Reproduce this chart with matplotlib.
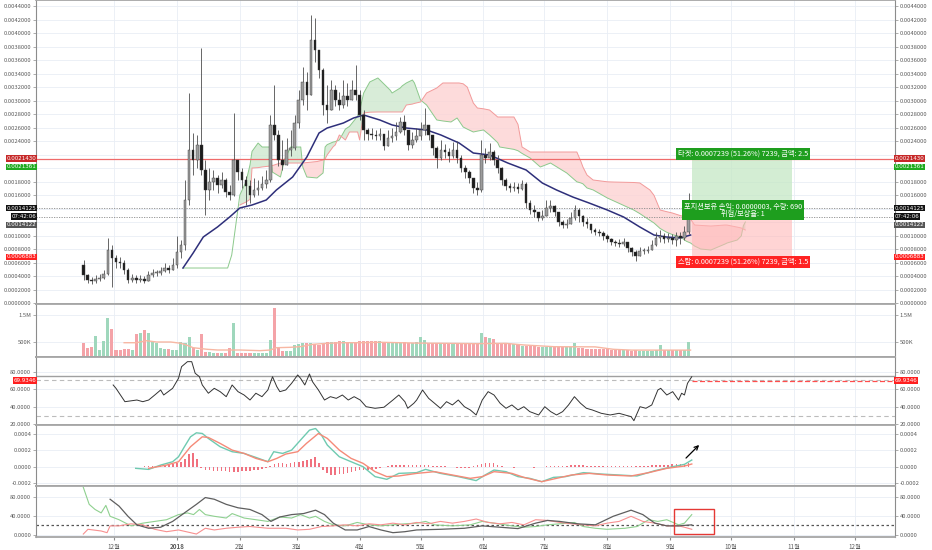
import numpy as np
import matplotlib
matplotlib.use('Agg')
import matplotlib.pyplot as plt
from matplotlib.patches import Rectangle

plt.rcParams['font.family'] = ['Noto Sans CJK KR', 'DejaVu Sans']

# x axis: days counted from 2017-11-01
month_days = [30, 61, 92, 120, 151, 181, 212, 242, 273, 304, 334, 365, 395]
month_labels = ['12월', '2018', '2월', '3월', '4월', '5월', '6월', '7월', '8월', '9월', '10월', '11월', '12월']

# candles, one every 2 days from day 15, prices in 1e-6
first_open = 570
closes = [422, 348, 333, 362, 377, 436, 791, 673, 614, 599,
          496, 348, 377, 348, 362, 333, 422, 451, 451, 481,
          525, 496, 570, 762, 865, 1531, 2271, 2123, 2345, 1975,
          1679, 1797, 1857, 1753, 1827, 1649, 1605, 2123, 1945, 1827,
          1738, 1605, 1679, 1709, 1768, 1827, 2641, 2493, 2123, 2049,
          2271, 2300, 2670, 3010, 3277, 3084, 3898, 3750, 3454, 2936,
          2862, 3158, 3010, 2936, 3070, 3010, 3158, 3084, 2788, 2567,
          2507, 2493, 2478, 2507, 2330, 2448, 2478, 2537, 2685, 2567,
          2345, 2419, 2478, 2567, 2641, 2493, 2300, 2152, 2271, 2241,
          2182, 2271, 2152, 2004, 1945, 1857, 1709, 1679, 2197, 2152,
          2241, 2123, 2004, 1827, 1738, 1709, 1723, 1694, 1768, 1487,
          1383, 1354, 1265, 1294, 1413, 1442, 1354, 1206, 1161, 1176,
          1265, 1383, 1294, 1206, 1176, 1087, 1058, 1043, 999, 954,
          910, 895, 880, 910, 821, 762, 703, 777, 777, 791,
          865, 969, 999, 954, 969, 939, 999, 969, 1058, 1412]
highs = [643, 430, 392, 422, 436, 496, 969, 865, 717, 688,
         643, 525, 436, 422, 422, 407, 481, 510, 496, 540,
         599, 570, 673, 999, 939, 1827, 3114, 2522, 2493, 3780,
         2123, 2004, 1975, 1901, 1945, 1857, 1753, 2818, 2123, 2004,
         1886, 1827, 1857, 1827, 1886, 1975, 2788, 3232, 2567, 2419,
         2448, 2567, 2788, 3158, 3499, 3425, 4268, 4223, 3750, 3484,
         3232, 3306, 3232, 3129, 3306, 3262, 3306, 3528, 3158, 2862,
         2596, 2596, 2567, 2596, 2493, 2567, 2596, 2685, 2759, 2788,
         2567, 2537, 2596, 2685, 2892, 2641, 2493, 2330, 2419, 2359,
         2300, 2389, 2404, 2197, 2049, 1975, 1857, 1797, 2419, 2300,
         2374, 2271, 2197, 2019, 1857, 1782, 1797, 1782, 1827, 1797,
         1531, 1457, 1354, 1383, 1531, 1531, 1457, 1354, 1235, 1250,
         1354, 1457, 1413, 1309, 1265, 1176, 1117, 1102, 1073, 1028,
         969, 939, 954, 969, 910, 836, 791, 836, 821, 851,
         939, 1058, 1087, 1043, 1043, 1028, 1058, 1058, 1146, 1635]
lows = [348, 303, 288, 303, 333, 362, 422, 244, 525, 525,
        436, 303, 318, 303, 318, 303, 348, 392, 407, 422,
        466, 451, 496, 525, 673, 791, 1457, 1901, 2004, 1901,
        1309, 1531, 1679, 1635, 1709, 1575, 1531, 1590, 1827, 1709,
        1457, 1487, 1575, 1605, 1679, 1709, 1797, 2419, 2034, 1975,
        2152, 2182, 2271, 2596, 2936, 2862, 3084, 3572, 3336, 2788,
        2670, 2892, 2922, 2862, 2892, 2922, 3010, 3010, 2714, 2419,
        2419, 2433, 2419, 2419, 2271, 2345, 2389, 2419, 2522, 2493,
        2271, 2300, 2389, 2419, 2493, 2419, 2197, 2004, 2123, 2152,
        2093, 2152, 2078, 1945, 1857, 1782, 1635, 1605, 1649, 2078,
        2123, 2049, 1930, 1753, 1679, 1649, 1664, 1635, 1679, 1413,
        1324, 1280, 1220, 1235, 1339, 1354, 1294, 1146, 1117, 1117,
        1206, 1235, 1206, 1146, 1117, 1043, 1013, 999, 939, 910,
        865, 851, 836, 851, 762, 703, 629, 717, 732, 747,
        791, 851, 910, 895, 910, 880, 851, 880, 939, 1028]
# volume in K, same days as candles
volume_k = [452, 267, 300, 720, 204, 548, 1380, 981, 204, 204,
            240, 240, 220, 785, 833, 944, 822, 500, 480, 267,
            250, 240, 204, 204, 500, 452, 674, 267, 204, 796,
            141, 141, 110, 100, 100, 100, 267, 1215, 110, 100,
            90, 90, 80, 80, 80, 80, 574, 1748, 300, 160,
            150, 150, 400, 420, 450, 450, 452, 420, 400, 480,
            500, 500, 500, 550, 550, 500, 500, 500, 520, 550,
            550, 550, 520, 550, 480, 470, 500, 480, 470, 490,
            480, 470, 500, 700, 574, 480, 470, 480, 470, 480,
            460, 470, 480, 460, 470, 450, 450, 450, 822, 700,
            650, 600, 450, 420, 450, 430, 420, 380, 350, 350,
            340, 350, 330, 320, 330, 320, 310, 320, 300, 310,
            320, 475, 280, 260, 250, 240, 250, 240, 230, 230,
            220, 210, 200, 200, 190, 180, 200, 170, 180, 170,
            180, 200, 390, 200, 190, 200, 190, 200, 210, 511]
vol_ma_days = [35, 41, 46, 51, 58, 63, 66, 69, 76, 81, 92, 102, 107, 110, 117, 122, 128, 135, 143, 151,
               161, 179, 197, 208, 223, 232, 247, 267, 276, 285, 296, 314]
vol_ma_vals = [474, 474, 548, 500, 500, 452, 380, 289, 230, 204, 204, 180, 204, 289, 304, 330, 415, 452, 474, 474,
               490, 460, 450, 440, 450, 390, 326, 320, 230, 200, 200, 200]

# moving average (1e-6)
ma_days = [64, 69, 74, 81, 87, 92, 98, 105, 110, 118, 125, 131, 135, 143, 148, 153, 161, 167, 174, 184,
           191, 200, 207, 215, 224, 233, 241, 248, 256, 264, 273, 281, 289, 296, 302, 309, 314]
ma_vals = [525, 747, 984, 1132, 1280, 1413, 1457, 1531, 1679, 1871, 2167, 2522, 2596, 2670, 2744, 2788, 2714, 2641, 2596, 2567,
           2493, 2374, 2226, 2197, 2078, 1975, 1782, 1679, 1575, 1487, 1383, 1280, 1132, 1013, 984, 969, 1013]

# ichimoku cloud (1e-6)
nan = float('nan')
cloud_days = [64, 86, 88, 90, 92, 95, 97, 98, 101, 103, 107, 108, 112, 114, 117, 122, 123, 125, 130, 133,
              134, 135, 138, 139, 141, 144, 146, 150, 151, 153, 156, 160, 166, 167, 171, 172, 174, 177, 178, 181,
              184, 189, 192, 196, 199, 200, 202, 204, 207, 209, 212, 215, 219, 220, 227, 229, 231, 235, 240, 245,
              253, 258, 260, 261, 263, 266, 273, 276, 286, 289, 294, 296, 299, 302, 305, 309, 312, 314, 316, 319,
              324, 331, 332, 337, 339, 340, 341]
span_a = [525, 525, 717, 1161, 1605, 1797, 2049, 2250, 2374, 2315, 2315, 1945, 1871, 2123, 2315, 2315, 2019, 1871, 1857, 1931,
          2315, 2350, 2389, 2395, 2419, 2580, 2620, 2770, 2850, 3114, 3277, 3336, 3158, 3114, 3188, 3220, 3262, 3306, 3262, 3010,
          2936, 2715, 2700, 2685, 2744, 2700, 2611, 2580, 2537, 2550, 2567, 2493, 2380, 2315, 2280, 2260, 2220, 2152, 2019, 2078,
          1931, 1800, 1783, 1770, 1709, 1680, 1561, 1520, 1383, 1330, 1230, 1191, 1110, 1058, 1020, 984, 920, 895, 850, 806,
          791, 880, 895, 939, 1000, 1150, 1206]
span_b = [nan, nan, nan, nan, 1457, 1500, 1540, 2004, 2010, 2020, 2034, 2040, 2078, 2078, 2078, 2078, 2078, 2085, 2100, 2123,
          2140, 2197, 2320, 2345, 2493, 2419, 2537, 2537, 2419, 2818, 2830, 2833, 2833, 2833, 2833, 2833, 2936, 2950, 2960, 2981,
          3114, 3188, 3262, 3262, 3262, 3262, 3250, 3202, 2966, 2892, 2880, 2862, 2759, 2759, 2759, 2650, 2315, 2241, 2241, 2241,
          2241, 2241, 2100, 2019, 1900, 1827, 1800, 1797, 1790, 1783, 1679, 1600, 1383, 1360, 1339, 1300, 1280, 1250, 1161, 1155,
          1146, 1161, 1160, 1130, 1117, 1100, 1087]

# RSI
rsi_days = [29.6, 31, 35.4, 41.3, 44.2, 47.1, 50.1, 53, 54.5, 58.9, 61.8, 63.3, 66.2, 68.3, 70, 72.1, 73.5, 76.5, 79.4, 82.3,
            85.3, 88.2, 91.1, 94.1, 97, 99.9, 102.9, 105.8, 108.1, 110.2, 111.7, 114.6, 117.5, 120.5, 121.9, 124, 126.3, 127.8, 130.7, 133.7,
            136.6, 139.5, 142.5, 145.4, 148.3, 151.3, 154.2, 158.6, 163, 167.4, 170.3, 173.3, 174.7, 177.7, 179.1, 182, 185, 187.9, 190.8, 193.8,
            196.7, 199.6, 202.6, 205.5, 208.4, 211.4, 214.3, 217.2, 220.2, 223.1, 226, 229, 231.9, 234.8, 239.2, 242.2, 245.1, 248, 251, 253.9,
            256.8, 259.8, 262.7, 265.6, 270, 274.4, 278.8, 281.7, 284.7, 286.1, 289.1, 292, 294.9, 297.9, 299.3, 302.3, 305.2, 308.1, 309.6, 311,
            312.5, 314.6]
rsi_vals = [64.9, 61.1, 45.9, 47.8, 45.9, 47.8, 53.5, 59.2, 53.5, 61.1, 72.5, 85.7, 91.4, 91.4, 78.2, 74.3, 64.9, 55.5, 61.1, 57.3,
            51.6, 64.9, 57.3, 53.5, 47.8, 55.5, 51.6, 59.2, 74.3, 63.0, 57.3, 59.2, 66.8, 76.3, 72.5, 64.9, 77.4, 68.6, 59.2, 47.8,
            51.6, 49.7, 53.5, 47.8, 51.6, 47.8, 40.2, 38.4, 39.6, 47.8, 53.5, 45.9, 38.4, 44.1, 47.8, 59.2, 49.7, 44.1, 38.4, 45.9,
            42.2, 47.8, 40.2, 36.5, 30.8, 47.8, 57.3, 53.5, 44.1, 38.4, 42.2, 36.5, 40.2, 34.6, 30.8, 40.2, 34.6, 30.8, 34.6, 42.2,
            51.6, 44.1, 38.4, 36.5, 32.7, 30.8, 32.7, 30.8, 28.9, 24.3, 40.2, 38.4, 42.2, 59.2, 61.1, 53.5, 57.3, 47.8, 55.5, 53.5,
            66.8, 74.3]
rsi_last = 69.9346

# MACD in 1e-4
macd_days = [40.7, 47.1, 53, 58.9, 61.8, 64.7, 67.7, 70.6, 73.5, 76.5, 82.3, 88.2, 94.1, 99.9, 105.8, 108.7, 113.1, 117.5, 121.9, 126.3,
             129.3, 132.2, 135.1, 141, 146.8, 152.7, 158.6, 164.4, 170.3, 179.1, 183.5, 190.8, 199.6, 208.4, 212.8, 217.2, 223.1, 229, 234.8, 240.7,
             246.5, 252.4, 261.2, 270, 278.8, 287.6, 296.4, 305.2, 311, 314.6]
macd_vals = [-0.2, -0.33, 0.2, 0.61, 1.22, 2.45, 3.67, 4.16, 4.08, 3.47, 2.45, 1.84, 1.63, 1.14, 0.61, 1.84, 1.63, 2.04, 3.27, 4.49,
             4.69, 3.88, 2.65, 1.22, 0.61, 0, -1.22, -1.55, -0.82, -0.73, -0.33, -0.82, -1.22, -1.71, -1.02, -0.41, -0.61, -1.22, -1.43, -1.84,
             -1.31, -1.22, -0.73, -0.90, -1.02, -1.14, -0.49, 0, 0.29, 0.82]
signal_days = [47.1, 55.9, 61.8, 67.7, 73.5, 76.5, 82.3, 88.2, 94.1, 99.9, 105.8, 110.2, 114.6, 120.5, 124.8, 130.7, 135.1, 141, 146.8, 152.7,
               158.6, 164.4, 170.3, 179.1, 187.9, 196.7, 205.5, 211.4, 217.2, 226, 231.9, 240.7, 248, 255.3, 264.1, 272.9, 284.7, 293.4, 302.3, 311,
               314.6]
signal_vals = [-0.2, 0.2, 0.61, 2.45, 3.67, 3.59, 2.86, 2.04, 1.63, 1.02, 0.61, 1.02, 1.55, 1.84, 2.86, 4.08, 3.47, 2.04, 1.02, 0.41,
               -0.61, -1.22, -1.14, -0.82, -0.61, -1.02, -1.43, -1.22, -0.61, -0.82, -1.31, -1.84, -1.43, -1.02, -0.82, -1.02, -1.14, -0.73, -0.2, 0.08,
               0.33]
# histogram, every 2 days from day 41
hist_vals = [0.0, 0.02, 0.04, 0.05, 0.08, 0.12, 0.15, 0.2, 0.25, 0.3,
             0.45, 0.6, 1.0, 1.5, 1.7, 1.0, -0.2, -0.4, -0.45, -0.5,
             -0.5, -0.55, -0.55, -0.6, -0.6, -0.6, -0.55, -0.5, -0.5, -0.45,
             -0.35, -0.3, -0.15, 0.1, 0.3, 0.45, 0.5, 0.35, 0.45, 0.55,
             0.6, 0.75, 0.85, 1.0, 1.15, 0.5, -0.4, -0.8, -1.0, -1.05,
             -0.95, -0.85, -0.75, -0.65, -0.55, -0.45, -0.35, -0.4, -0.35, -0.3,
             -0.15, 0.0, 0.1, 0.15, 0.2, 0.2, 0.18, 0.15, 0.15, 0.2,
             0.25, 0.25, 0.15, 0.1, 0.08, 0.05, 0.05, 0.0, -0.05, -0.1,
             -0.1, -0.1, -0.1, 0.05, 0.2, 0.3, 0.45, 0.5, 0.4, 0.25,
             0.1, 0.0, -0.08, -0.1, -0.08, -0.05, -0.05, -0.08, -0.1, -0.08,
             0.0, 0.08, 0.1, 0.08, 0.05, 0.06, 0.1, 0.15, 0.18, 0.2,
             0.18, 0.12, 0.1, 0.08, 0.05, 0.05, 0.04, 0.04, 0.05, 0.05,
             0.05, 0.05, 0.05, 0.07, 0.1, 0.1, 0.12, 0.15, 0.2, 0.22,
             0.25, 0.25, 0.27, 0.3, 0.3, 0.35, 0.4]

# DMI
pdi_days = [14.9, 17.8, 20.7, 23.7, 26.0, 28.1, 32.5, 38.4, 44.2, 50.1, 55.9, 61.8, 66.2, 69.2, 72.1, 75.0, 79.4, 85.3, 88.2, 94.1,
            99.9, 105.8, 111.7, 117.5, 121.9, 126.3, 129.3, 133.7, 138.0, 143.9, 149.8, 155.6, 161.5, 167.4, 173.3, 179.1, 183.5, 187.9, 196.7, 205.5,
            211.4, 217.2, 226.0, 231.9, 237.7, 243.6, 249.5, 256.8, 261.2, 267.1, 272.9, 281.7, 287.6, 293.4, 297.9, 302.3, 308.1, 311.0, 314.6]
pdi_vals = [101, 64.7, 53.8, 46.5, 62.5, 39.3, 32, 18.9, 24.7, 28.4, 32, 42.9, 46.5, 42.9, 53.8, 42.9, 39.3, 35.6, 45.1, 35.6,
            32, 28.4, 37.8, 35.6, 42.9, 35.6, 39.3, 28.4, 21.1, 18.9, 26.2, 21.1, 18.9, 21.1, 23.3, 24.7, 28.4, 21.1, 18.9, 21.1,
            28.4, 24.7, 18.9, 16, 17.5, 21.1, 23.3, 26.2, 17.5, 13.8, 11.6, 13.8, 17.5, 32, 28.4, 32, 21.1, 24.7, 42.9]
mdi_days = [14.9, 17.2, 23.7, 26.6, 28.1, 32.5, 38.4, 44.2, 50.1, 55.9, 61.8, 67.7, 70.6, 75.0, 79.4, 85.3, 91.1, 97.0, 105.8, 114.6,
            120.5, 126.3, 132.2, 138.0, 143.9, 149.8, 155.6, 161.5, 167.4, 173.3, 179.1, 185.0, 190.8, 196.7, 202.6, 208.4, 214.3, 220.2, 226.0, 231.9,
            237.7, 243.6, 249.5, 255.3, 261.2, 267.1, 272.9, 278.8, 284.7, 290.5, 296.4, 302.3, 308.1, 311.0, 314.6]
mdi_vals = [1.5, 11.6, 8, 4.4, 18.9, 18.9, 23.3, 21.1, 11.6, 6.5, 10.2, 4.4, 1.5, 13.8, 10.2, 13.8, 16, 17.5, 13.8, 13.8,
            10.2, 11.6, 17.5, 18.9, 21.1, 18.9, 23.3, 21.1, 24.7, 21.1, 26.2, 23.3, 28.4, 24.7, 28.4, 33.5, 26.2, 23.3, 26.2, 21.1,
            32, 30.5, 26.2, 23.3, 21.1, 18.9, 24.7, 28.4, 39.3, 28.4, 24.7, 18.9, 18.9, 16, 11.6]
adx_days = [28.1, 32.5, 36.9, 41.3, 47.1, 53.0, 58.9, 64.7, 70.6, 75.0, 79.4, 85.3, 91.1, 97.0, 102.9, 107.3, 111.7, 117.5, 123.4, 129.3,
            133.7, 138.0, 143.9, 149.8, 155.6, 161.5, 167.4, 173.3, 179.1, 190.8, 202.6, 211.4, 220.2, 229.0, 237.7, 243.6, 249.5, 258.3, 267.1, 275.9,
            284.7, 290.5, 296.4, 302.3, 308.1, 314.6]
adx_vals = [75.6, 61, 39.3, 21.1, 13.8, 16, 28.4, 46.5, 64.7, 79.2, 75.6, 64.7, 57.4, 53.8, 42.9, 28.4, 37.8, 42.9, 45.1, 52.3,
            42.9, 24.7, 10.2, 10.2, 17.5, 10.2, 4.4, 6.5, 10.2, 11.6, 13.8, 18.9, 16, 13.1, 24.7, 30.5, 28.4, 23.3, 21.1, 39.3,
            52.3, 42.9, 24.7, 18.9, 18.9, 21.1]

# position tool
target_price = 0.0021430
entry_price = 0.0014125
stop_price = 0.0006883
target_text = '타겟: 0.0007239 (51.26%) 7239, 금액: 2.5'
open_text = '포지션보유 손익: 0.0000003, 수량: 690\n위험/보상율: 1'
stop_text = '스탑: 0.0007239 (51.26%) 7239, 금액: 1.5'

XMIN, XMAX = -8.4, 414.7
GRID = '#e9eef5'
TXT = '#5a5a5a'

fig = plt.figure(figsize=(9.32, 5.5), dpi=100)
fig.patch.set_facecolor('white')
L, W = 36 / 932, 859 / 932


def pane(top_px, bot_px):
    return fig.add_axes([L, 1 - bot_px / 550, W, (bot_px - top_px) / 550])


def style(ax, ticks, labels, ylim):
    ax.set_xlim(XMIN, XMAX)
    ax.set_ylim(*ylim)
    ax.set_xticks(month_days)
    ax.set_xticklabels([])
    ax.set_yticks(ticks)
    ax.set_yticklabels(labels)
    ax.tick_params(axis='y', left=True, right=True, labelleft=True, labelright=True,
                   labelsize=4.2, labelcolor=TXT, color='#8c8c8c', length=2, width=0.5, pad=1.5)
    ax.tick_params(axis='x', length=0)
    ax.grid(True, color=GRID, lw=0.6)
    ax.set_axisbelow(True)
    for s in ('left', 'right'):
        ax.spines[s].set_color('#8c8c8c')
        ax.spines[s].set_linewidth(0.8)
    for s in ('top', 'bottom'):
        ax.spines[s].set_color('#a6a6a6')
        ax.spines[s].set_linewidth(1.3)


def tag(ax, y, text, fc):
    for x, ha in ((0, 'right'), (1, 'left')):
        ax.text(x, y, text, transform=ax.get_yaxis_transform(), ha=ha, va='center',
                fontsize=4.0, family='DejaVu Sans', color='white', clip_on=False, zorder=20,
                bbox=dict(boxstyle='square,pad=0.12', fc=fc, ec='none'))


ax_p = pane(0, 304)
ax_v = pane(304, 357)
ax_r = pane(357, 425)
ax_m = pane(425, 486)
ax_d = pane(486, 537)

# ---- price pane
pt = np.arange(0, 0.00441, 0.0002)
hidden = (0.0012, 0.0014, 0.0020, 0.0022)  # covered by the price tags
plabels = ['' if any(abs(v - hv) < 1e-9 for hv in hidden) else f'{v:.7f}' for v in pt]
style(ax_p, pt, plabels, (-0.0000074, 0.0044896))

cd = np.array(cloud_days)
a = np.array(span_a) * 1e-6
b = np.array(span_b) * 1e-6
ax_p.fill_between(cd, a, b, where=a >= b, interpolate=True, color='#cfe8cf', alpha=0.8, lw=0, zorder=1)
ax_p.fill_between(cd, a, b, where=a < b, interpolate=True, color='#fdd3d3', alpha=0.8, lw=0, zorder=1)
ax_p.plot(cd, a, color='#8cc98c', lw=0.7, zorder=2)
ax_p.plot(cd, b, color='#f29a9a', lw=0.7, zorder=2)

ax_p.add_patch(Rectangle((314.7, entry_price), 49.2, target_price - entry_price,
                         fc='#c5e7c5', ec='none', alpha=0.75, zorder=2))
ax_p.add_patch(Rectangle((314.7, stop_price), 49.2, entry_price - stop_price,
                         fc='#ffb8b8', ec='none', alpha=0.6, zorder=2))

ax_p.axhline(target_price, color='#ef6b6b', lw=0.9, zorder=3)
ax_p.axhline(entry_price, color='#8a8a8a', lw=0.6, ls=(0, (1.5, 1.5)), zorder=3)
ax_p.axhline(0.00128, color='#8a8a8a', lw=0.6, ls=(0, (1.5, 1.5)), zorder=3)

ax_p.plot(ma_days, np.array(ma_vals) * 1e-6, color='#2e2f7a', lw=1.1, zorder=5)

days = np.arange(15, 15 + 2 * len(closes), 2)
c = np.array(closes) * 1e-6
o = np.array([first_open] + closes[:-1]) * 1e-6
h = np.maximum(np.array(highs) * 1e-6, np.maximum(o, c))
lo = np.minimum(np.array(lows) * 1e-6, np.minimum(o, c))
up = c >= o
ax_p.vlines(days, lo, h, color='#4d4d4d', lw=0.6, zorder=6)
ax_p.bar(days, np.maximum(np.abs(c - o), 8e-6), bottom=np.minimum(o, c), width=1.3,
         color=np.where(up, '#9c9c9c', '#1c1c1c'), edgecolor='#3a3a3a', lw=0.3, zorder=7)

box_green = dict(boxstyle='square,pad=0.3', fc='#1e9e1e', ec='none')
ax_p.text(339.9, 0.002212, target_text, ha='center', va='center', fontsize=5.2, color='white', zorder=20,
          bbox=box_green)
ax_p.text(339.9, 0.001383, open_text, ha='center', va='center', fontsize=5.2, color='white', zorder=20,
          linespacing=0.95, bbox=box_green)
ax_p.text(339.9, 0.000614, stop_text, ha='center', va='center', fontsize=5.2, color='white', zorder=20,
          bbox=dict(boxstyle='square,pad=0.3', fc='#ff2222', ec='none'))

tag(ax_p, target_price, '0.0021430', '#c62828')
tag(ax_p, 0.002020, '0.0021361', '#1faa1f')
tag(ax_p, entry_price, '0.0014125', '#121212')
tag(ax_p, 0.001287, '07:42:06', '#121212')
tag(ax_p, 0.001162, '0.0014122', '#555555')
tag(ax_p, stop_price, '0.0006883', '#ff1f1f')

# ---- volume pane
style(ax_v, [500, 1500], ['500K', '1.5M'], (-55, 1907))
ax_v.bar(days, volume_k, width=1.5, color=np.where(up, '#9fd7bc', '#f4a3a8'), lw=0, zorder=3)
ax_v.plot(vol_ma_days, vol_ma_vals, color='#f7b7a3', lw=1.0, zorder=4)

# ---- RSI pane
style(ax_r, [20, 40, 60, 80], ['20.0000', '40.0000', '60.0000', '80.0000'], (19.4, 96.7))
ax_r.axhline(70, color='#bcbcbc', lw=0.8, ls=(0, (4, 3)), zorder=2)
ax_r.axhline(30, color='#bcbcbc', lw=0.8, ls=(0, (4, 3)), zorder=2)
ax_r.axhline(75.1, color='#a0a0a0', lw=1.0, zorder=2)
ax_r.plot(rsi_days, rsi_vals, color='#333333', lw=0.7, zorder=4)
ax_r.plot([rsi_days[-1], XMAX], [rsi_last, rsi_last], color='#ff4d4d', lw=0.9, ls=(0, (4, 2)), zorder=3)
tag(ax_r, rsi_last, f'{rsi_last:.4f}', '#ff1f1f')

# ---- MACD pane
style(ax_m, [-2, 0, 2, 4], ['-0.0002', '0.0000', '0.0002', '0.0004'], (-2.37, 5.12))
hdays = np.arange(41, 41 + 2 * len(hist_vals), 2)
ax_m.bar(hdays, hist_vals, width=0.8, color='#f0717f', lw=0, zorder=3)
ax_m.plot(macd_days, macd_vals, color='#6fcab0', lw=1.0, zorder=4)
ax_m.plot(signal_days, signal_vals, color='#f58a78', lw=1.0, zorder=5)
ax_m.annotate('', xy=(319.2, 2.91), xytext=(310.8, 0.82),
              arrowprops=dict(arrowstyle='->', color='black', lw=0.9, mutation_scale=7))

# ---- DMI pane
style(ax_d, [0, 40, 80], ['0.0000', '40.0000', '80.0000'], (-4.8, 103.8))
ax_d.axhline(20, color='#555555', lw=0.9, ls=(0, (2, 2)), zorder=2)
ax_d.plot(pdi_days, pdi_vals, color='#8fd08f', lw=0.8, zorder=4)
ax_d.plot(mdi_days, mdi_vals, color='#f79090', lw=0.8, zorder=4)
ax_d.plot(adx_days, adx_vals, color='#5e5e5e', lw=0.9, zorder=5)
ax_d.add_patch(Rectangle((305.8, 1.5), 19.7, 52.6, fill=False, ec='#e53935', lw=1.0, zorder=6))
ax_d.set_xticklabels(month_labels)
ax_d.tick_params(axis='x', length=2, color='#8c8c8c', labelsize=4.5, labelcolor=TXT, pad=2)
for lab in ax_d.get_xticklabels():
    if lab.get_text() == '2018':
        lab.set_fontweight('bold')

fig.savefig('out.png', dpi=100, facecolor='white')
